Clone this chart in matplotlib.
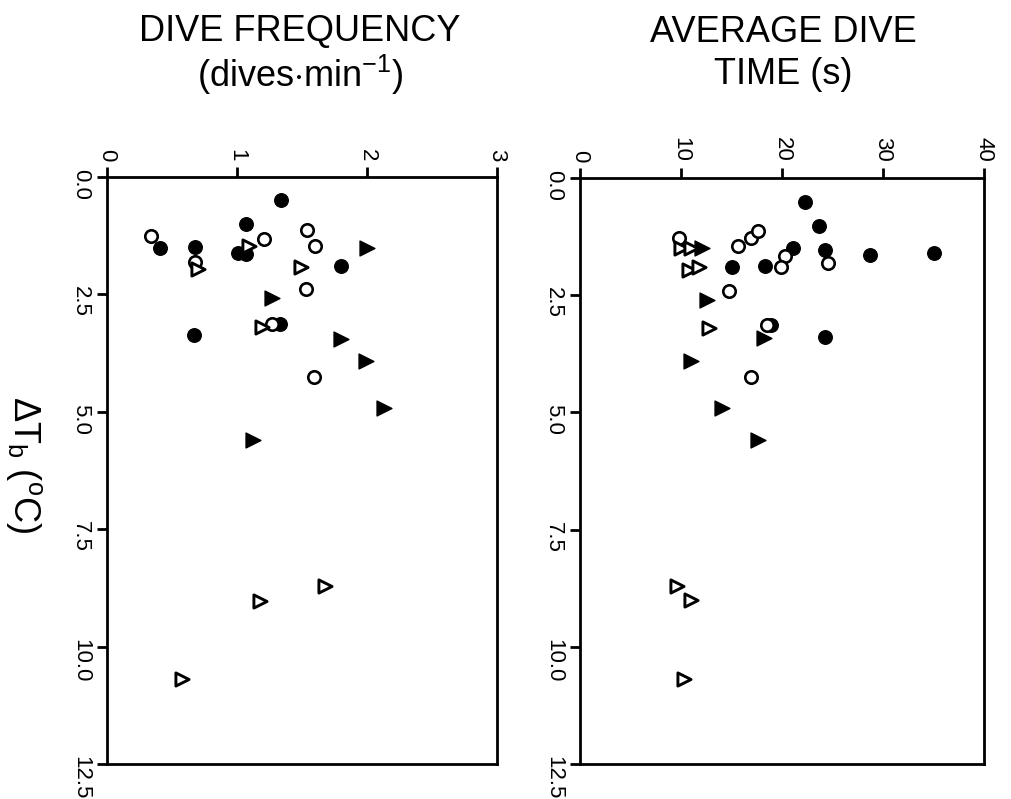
import matplotlib
matplotlib.use("Agg")
import matplotlib.pyplot as plt

plt.rcParams['font.family'] = ['Liberation Sans', 'DejaVu Sans']
plt.rcParams['mathtext.fontset'] = 'custom'
plt.rcParams['mathtext.rm'] = 'Liberation Sans'
plt.rcParams['mathtext.it'] = 'Liberation Sans'

# ---- Dive frequency (dives/min) vs delta Tb ----
freq_fc_dt = [0.50, 1.00, 1.52, 1.48, 1.61, 1.63, 1.90, 3.12, 3.36]
freq_fc_v = [1.335, 1.07, 0.41, 0.68, 1.01, 1.07, 1.80, 1.33, 0.67]
freq_oc_dt = [1.26, 1.31, 1.13, 1.47, 1.80, 2.39, 3.12, 4.25]
freq_oc_v = [0.34, 1.21, 1.54, 1.60, 0.68, 1.53, 1.27, 1.59]
freq_ft_dt = [1.52, 2.58, 3.44, 3.91, 4.92, 5.60]
freq_ft_v = [2.00, 1.27, 1.80, 1.99, 2.13, 1.12]
freq_ot_dt = [1.47, 1.95, 1.91, 3.19, 8.72, 9.02, 10.70]
freq_ot_v = [1.09, 0.70, 1.49, 1.19, 1.68, 1.18, 0.58]

# ---- Average dive time (s) vs delta Tb ----
time_fc_dt = [0.52, 1.02, 1.50, 1.54, 1.64, 1.60, 1.90, 1.88, 3.13, 3.40]
time_fc_v = [22.3, 23.7, 21.1, 24.3, 28.7, 35.0, 15.0, 18.3, 18.9, 24.3]
time_oc_dt = [1.29, 1.46, 1.29, 1.12, 1.66, 1.89, 1.82, 2.40, 3.13, 4.25]
time_oc_v = [9.8, 15.6, 16.9, 17.6, 20.3, 19.9, 24.6, 14.8, 18.5, 16.9]
time_ft_dt = [1.50, 2.60, 3.42, 3.90, 4.90, 5.59]
time_ft_v = [12.1, 12.6, 18.2, 11.0, 14.1, 17.6]
time_ot_dt = [1.50, 1.50, 1.96, 1.90, 3.20, 8.70, 9.01, 10.69]
time_ot_v = [10.0, 11.0, 10.8, 11.8, 12.8, 9.6, 11.0, 10.3]

dt_ticks = [0.0, 2.5, 5.0, 7.5, 10.0, 12.5]
freq_ticks = [0, 1, 2, 3]
time_ticks = [0, 10, 20, 30, 40]

W, H = 1011, 799
fig = plt.figure(figsize=(W / 100, H / 100), dpi=100)

def px_axes(x0, x1, y0, y1):
    return fig.add_axes([x0 / W, 1 - y1 / H, (x1 - x0) / W, (y1 - y0) / H])

ax1 = px_axes(107, 497, 177, 764)
ax2 = px_axes(580, 984, 178, 764)

def style(ax, vticks, vmax, data):
    fc, oc, ft, ot = data
    ax.scatter(fc[1], fc[0], s=95, marker='o', c='black', zorder=3)
    ax.scatter(oc[1], oc[0], s=80, marker='o', facecolors='white',
               edgecolors='black', linewidths=1.9, zorder=3)
    ax.scatter(ft[1], ft[0], s=115, marker='>', c='black', zorder=3)
    ax.scatter(ot[1], ot[0], s=90, marker='>', facecolors='white',
               edgecolors='black', linewidths=2.1, zorder=3)
    ax.set_xlim(0, vmax)
    ax.set_ylim(12.5, 0)
    ax.xaxis.tick_top()
    ax.set_xticks(vticks)
    ax.set_xticklabels([str(t) for t in vticks], rotation=-90)
    ax.set_yticks(dt_ticks)
    ax.set_yticklabels([f"{t:.1f}" for t in dt_ticks], rotation=-90)
    ax.tick_params(axis='both', direction='out', length=7.5, width=2.0,
                   labelsize=16, pad=4)
    for sp in ax.spines.values():
        sp.set_linewidth(2.0)

style(ax1, freq_ticks, 3,
      [(freq_fc_dt, freq_fc_v), (freq_oc_dt, freq_oc_v),
       (freq_ft_dt, freq_ft_v), (freq_ot_dt, freq_ot_v)])
style(ax2, time_ticks, 40,
      [(time_fc_dt, time_fc_v), (time_oc_dt, time_oc_v),
       (time_ft_dt, time_ft_v), (time_ot_dt, time_ot_v)])

fs = 26
fig.text(300 / W, 1 - 32 / H, "DIVE FREQUENCY", ha='center', va='center', fontsize=fs)
fig.text(300 / W, 1 - 75 / H, "(dives$\\cdot$min$^{-1}$)", ha='center', va='center', fontsize=fs)
fig.text(783 / W, 1 - 32 / H, "AVERAGE DIVE", ha='center', va='center', fontsize=fs)
fig.text(783 / W, 1 - 75 / H, "TIME (s)", ha='center', va='center', fontsize=fs)
fig.text(24 / W, 1 - 465 / H, "$\\Delta$T$_\\mathrm{b}$ ($^\\mathrm{o}$C)", ha='center', va='center',
         fontsize=fs, rotation=-90)

fig.savefig("out.png", dpi=100)
